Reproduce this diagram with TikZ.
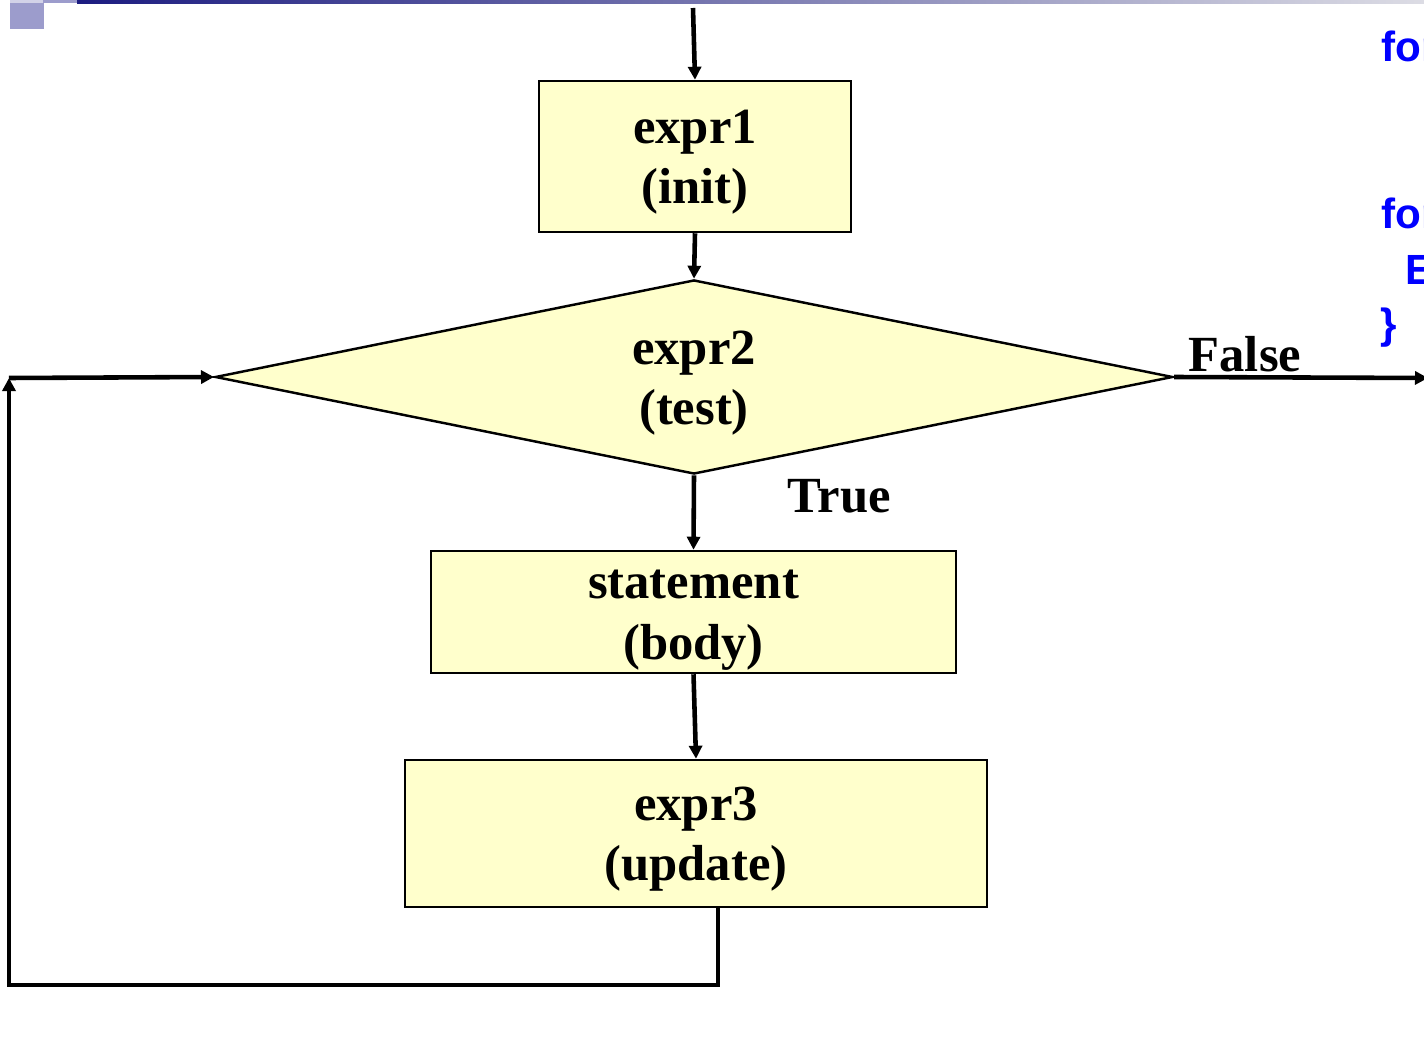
\documentclass[tikz,border=0pt]{standalone}
\usepackage{fontspec}
\setmainfont{Liberation Serif}
\newfontfamily\codefont{Liberation Sans}
\usetikzlibrary{arrows.meta,shapes.geometric}

\definecolor{boxfill}{HTML}{FFFFCC}
\definecolor{barnavy}{HTML}{1C1C80}
\definecolor{barlight}{HTML}{DCDCE4}
\definecolor{barlav}{HTML}{9C9CCC}
\definecolor{barpale}{HTML}{D2D2E8}
\definecolor{codeblue}{HTML}{0000FF}

\newcommand{\flowstrut}{\rule{0pt}{0.45cm}}

\tikzset{
  flowbox/.style={draw, line width=0.7pt, fill=boxfill, inner sep=0pt, align=center,
    font=\fontsize{14.4}{17.1}\selectfont\bfseries},
  testbox/.style={flowbox, diamond, aspect=4.9},
  flowarrow/.style={line width=1.3pt, -{Triangle[length=0.13cm,width=0.13cm]}},
  flowlabel/.style={anchor=base west, inner sep=0pt, font=\fontsize{14.4}{17.1}\selectfont\bfseries},
  codeline/.style={anchor=base west, inner sep=0pt, text=codeblue, font=\fontsize{12}{14}\selectfont\codefont\bfseries}
}

\begin{document}
\begin{tikzpicture}
\begin{scope}[x=0.01cm, y=-0.01cm]

\useasboundingbox (0,0) rectangle (1424,1043);

\fill[barpale] (10,0) rectangle (43,3);
\fill[barlav] (43,0) rectangle (77,3);
\shade[left color=barnavy, right color=barlight] (77,0) rectangle (1424,4);
\fill[barlav] (10,3) rectangle (44,29);

\node[flowbox, minimum width=3.12cm, minimum height=1.51cm] (init) at (695,156.5) {\flowstrut expr1\\(init)};
\node[testbox, minimum width=9.57cm, minimum height=1.94cm] (test) at (694,377) {\flowstrut expr2\\(test)};
\node[flowbox, minimum width=5.25cm, minimum height=1.22cm] (body) at (693.5,612) {\flowstrut statement\\(body)};
\node[flowbox, minimum width=5.82cm, minimum height=1.47cm] (update) at (696,833.5) {\flowstrut expr3\\(update)};

\coordinate (entry) at (693,8);
\coordinate (exit) at (1428,378);
\coordinate (loopdown) at (718,907);
\coordinate (loopbottom) at (718,985);
\coordinate (loopcorner) at (9,378);

\draw[flowarrow] (entry) -- (init.north);
\draw[flowarrow] (init.south) -- (test.north);
\draw[flowarrow] (test.south) -- (body.north);
\draw[flowarrow] (body.south) -- (update.north);
\draw[flowarrow] (test.east) -- (exit);
\draw[flowarrow] (loopdown) -- (loopbottom) -| (loopcorner);
\draw[flowarrow] (loopcorner) -- (test.west);

\node[flowlabel] (falselbl) at (1188,372) {False};
\node[flowlabel] (truelbl) at (787,512) {True};

\node[codeline] (code1) at (1381,62) {for};
\node[codeline] (code2) at (1381,229) {for};
\node[codeline] (code3) at (1405,285) {E};
\node[codeline] (code4) at (1380,339) {\}};

\end{scope}
\end{tikzpicture}
\end{document}
